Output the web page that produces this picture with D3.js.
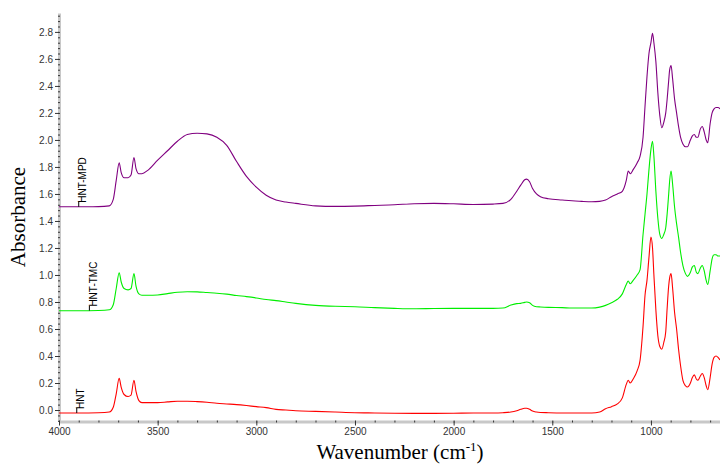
<!DOCTYPE html>
<html>
<head>
<meta charset="utf-8">
<script src="https://cdn.jsdelivr.net/npm/d3@7"></script>
<style>
  body { margin: 0; background: #fff; }
  svg { display: block; }
</style>
</head>
<body>
<svg id="chart" width="720" height="464"></svg>
<script>
// wavenumber grid (cm-1), shared by the three spectra
const wavenumbers = [4000, 3900, 3800, 3745, 3725, 3710, 3695, 3685, 3670, 3650, 3635, 3620, 3610, 3595, 3580,
  3550, 3500, 3450, 3400, 3350, 3300, 3250, 3200, 3150, 3100, 3050, 3000, 2950, 2900, 2850, 2800,
  2700, 2600, 2500, 2400, 2300, 2200, 2100, 2000, 1900, 1800, 1750, 1710, 1680, 1660, 1640, 1630,
  1615, 1600, 1580, 1560, 1520, 1450, 1400, 1350, 1300, 1260, 1230, 1200, 1170, 1145, 1125, 1115,
  1105, 1090, 1070, 1055, 1040, 1030, 1020, 1010, 1000, 992, 985, 975, 965, 955, 945, 935, 925,
  918, 910, 905, 898, 890, 880, 870, 860, 850, 838, 825, 815, 800, 790, 780, 770, 762, 750, 740,
  730, 720, 712, 700, 690, 680, 670, 660, 650]

const hnt = [-0.022, -0.022, -0.02, -0.015, 0.02, 0.12, 0.235, 0.17, 0.115, 0.10, 0.11, 0.22, 0.14, 0.07, 0.055,
  0.055, 0.055, 0.06, 0.065, 0.065, 0.062, 0.057, 0.05, 0.045, 0.04, 0.033, 0.025, 0.018, 0.005, 0.0, -0.005,
  -0.01, -0.015, -0.02, -0.022, -0.024, -0.025, -0.025, -0.024, -0.022, -0.022, -0.02, -0.015, -0.005, 0.005, 0.013, 0.013,
  0.005, -0.008, -0.015, -0.018, -0.02, -0.022, -0.022, -0.022, -0.022, -0.015, 0.01, 0.025, 0.045, 0.09, 0.19, 0.22,
  0.2, 0.23, 0.29, 0.37, 0.62, 0.85, 0.96, 1.13, 1.28, 1.2, 1.0, 0.74, 0.55, 0.47, 0.45, 0.5, 0.58,
  0.75, 0.92, 0.98, 1.01, 0.9, 0.72, 0.6, 0.45, 0.33, 0.22, 0.18, 0.17, 0.2, 0.24, 0.26, 0.23, 0.22, 0.25, 0.27,
  0.24, 0.18, 0.15, 0.24, 0.34, 0.39, 0.4, 0.39, 0.37]

const hntTmc = [0.735, 0.735, 0.737, 0.742, 0.78, 0.9, 1.017, 0.95, 0.9, 0.89, 0.9, 1.01, 0.92, 0.86, 0.85,
  0.85, 0.852, 0.862, 0.872, 0.876, 0.875, 0.87, 0.865, 0.858, 0.848, 0.84, 0.83, 0.818, 0.81, 0.8, 0.79,
  0.775, 0.768, 0.765, 0.758, 0.753, 0.75, 0.752, 0.753, 0.753, 0.753, 0.755, 0.777, 0.788, 0.79, 0.797, 0.8,
  0.795, 0.775, 0.765, 0.763, 0.76, 0.758, 0.755, 0.755, 0.755, 0.762, 0.775, 0.795, 0.82, 0.86, 0.93, 0.955,
  0.935, 0.96, 1.0, 1.04, 1.3, 1.45, 1.6, 1.78, 1.93, 1.99, 1.88, 1.62, 1.42, 1.3, 1.27, 1.3, 1.35,
  1.45, 1.6, 1.7, 1.77, 1.67, 1.5, 1.38, 1.28, 1.17, 1.07, 1.01, 0.99, 1.02, 1.06, 1.07, 1.02, 1.01, 1.05, 1.07,
  1.03, 0.96, 0.93, 1.03, 1.12, 1.15, 1.15, 1.14, 1.14]

const hntMpd = [1.505, 1.505, 1.506, 1.512, 1.56, 1.7, 1.83, 1.76, 1.72, 1.72, 1.74, 1.87, 1.79, 1.75, 1.75,
  1.775, 1.85, 1.92, 1.99, 2.04, 2.05, 2.045, 2.02, 1.96, 1.84, 1.73, 1.65, 1.59, 1.555, 1.54, 1.53,
  1.512, 1.508, 1.51, 1.515, 1.52, 1.528, 1.53, 1.527, 1.522, 1.525, 1.53, 1.56, 1.62, 1.665, 1.705, 1.71,
  1.69, 1.64, 1.6, 1.58, 1.565, 1.555, 1.55, 1.545, 1.542, 1.545, 1.555, 1.58, 1.6, 1.62, 1.7, 1.77,
  1.75, 1.78, 1.83, 1.88, 2.02, 2.25, 2.47, 2.64, 2.72, 2.79, 2.72, 2.58, 2.35, 2.18, 2.09, 2.13, 2.2,
  2.3, 2.44, 2.52, 2.55, 2.45, 2.3, 2.2, 2.1, 2.02, 1.97, 1.95, 1.95, 2.0, 2.03, 2.04, 2.02, 2.02, 2.08, 2.1,
  2.06, 2.0, 1.98, 2.12, 2.2, 2.23, 2.24, 2.24, 2.23]

const seriesNames = ['HNT', 'HNT-TMC', 'HNT-MPD']
const seriesColors = ['#ff0000', '#00ee00', '#800080']
const labelAt = [3910, 3846, 3900]

const xMajor = [4000, 3500, 3000, 2500, 2000, 1500, 1000]
const xMinor = d3.range(4000, 650, -100)
const yMajor = [0, 0.2, 0.4, 0.6, 0.8, 1.0, 1.2, 1.4, 1.6, 1.8, 2.0, 2.2, 2.4, 2.6, 2.8]
const yMinor = d3.range(-0.08, 2.94, 0.04)

const svg = d3.select('#chart')
const plotLeft = 59
const plotRight = 720
const plotTop = 13
const plotBottom = 421.5

const xScale = d3.scaleLinear().domain([4000, 650]).range([plotLeft, plotRight])
const yScale = d3.scaleLinear().domain([-0.085, 2.94]).range([plotBottom, plotTop])

const series = [hnt, hntTmc, hntMpd].map((vals, i) => ({
  name: seriesNames[i],
  color: seriesColors[i],
  labelAt: labelAt[i],
  values: wavenumbers.map((w, j) => ({ w, v: vals[j] }))
}))

const line = d3.line()
  .x(d => xScale(d.w))
  .y(d => yScale(d.v))
  .curve(d3.curveMonotoneX)

const sans = 'Liberation Sans, Arial, sans-serif'
const serif = 'Liberation Serif, Times New Roman, serif'

const xAxis = d3.axisBottom(xScale).tickValues(xMajor).tickSize(4).tickSizeOuter(0).tickPadding(2)
  .tickFormat(d3.format('d'))
const yAxis = d3.axisLeft(yScale).tickValues(yMajor).tickSize(4).tickSizeOuter(0).tickPadding(2)
  .tickFormat(d3.format('.1f'))

function styleAxis (g) {
  g.select('.domain').attr('stroke', '#c8c8c8').attr('stroke-width', 3)
  g.selectAll('.tick line').attr('stroke', '#333')
  g.selectAll('.tick text')
    .style('font-family', sans)
    .style('font-size', '10px')
    .attr('fill', '#333')
}

svg.append('g')
  .attr('transform', `translate(0,${plotBottom})`)
  .call(xAxis)
  .call(styleAxis)

svg.append('g')
  .attr('transform', `translate(${plotLeft},0)`)
  .call(yAxis)
  .call(styleAxis)

// minor ticks sit on the grey band
svg.append('g')
  .attr('transform', `translate(0,${plotBottom - 1})`)
  .call(d3.axisBottom(xScale).tickValues(xMinor).tickSize(2).tickFormat(''))
  .call(g => g.select('.domain').remove())
  .call(g => g.selectAll('.tick line').attr('stroke', '#333'))

svg.append('g')
  .attr('transform', `translate(${plotLeft + 1},0)`)
  .call(d3.axisLeft(yScale).tickValues(yMinor).tickSize(2).tickFormat(''))
  .call(g => g.select('.domain').remove())
  .call(g => g.selectAll('.tick line').attr('stroke', '#333'))

// spectra
svg.append('g')
  .selectAll('path')
  .data(series)
  .join('path')
  .attr('d', d => line(d.values))
  .attr('fill', 'none')
  .attr('stroke', d => d.color)
  .attr('stroke-width', 1.1)

// series labels with a small marker
const labels = svg.append('g')
series.forEach(s => {
  const j = wavenumbers.findIndex(w => w <= s.labelAt)
  const y0 = yScale(s.values[j - 1].v + (s.values[j].v - s.values[j - 1].v) *
    (s.labelAt - wavenumbers[j - 1]) / (wavenumbers[j] - wavenumbers[j - 1]))
  const x0 = xScale(s.labelAt)
  labels.append('line')
    .attr('x1', x0).attr('x2', x0)
    .attr('y1', y0).attr('y2', y0 - 5)
    .attr('stroke', '#000')
  labels.append('text')
    .attr('transform', `translate(${x0 + 7.5},${y0 - 4}) rotate(-90)`)
    .style('font-family', sans)
    .style('font-size', '10px')
    .attr('fill', '#000')
    .text(s.name)
})

// axis titles
svg.append('text')
  .attr('transform', 'translate(25,217) rotate(-90)')
  .attr('text-anchor', 'middle')
  .style('font-family', serif)
  .style('font-size', '21px')
  .text('Absorbance')

const xt = svg.append('text')
  .attr('x', 400)
  .attr('y', 459)
  .attr('text-anchor', 'middle')
  .style('font-family', serif)
  .style('font-size', '21px')
xt.append('tspan').text('Wavenumber (cm')
xt.append('tspan').attr('dy', -8).style('font-size', '13px').text('-1')
xt.append('tspan').attr('dy', 8).text(')')
</script>
</body>
</html>
